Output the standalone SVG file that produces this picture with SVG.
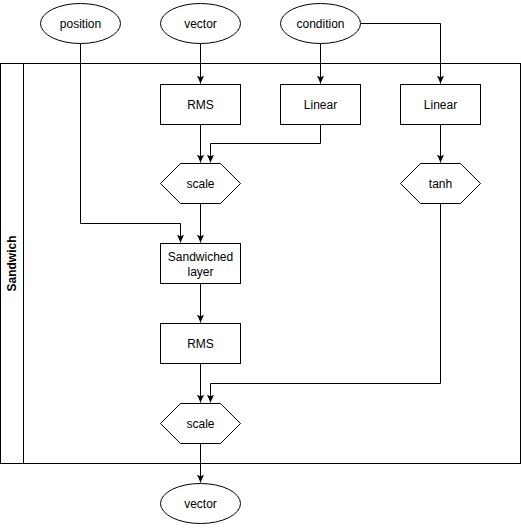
<svg xmlns="http://www.w3.org/2000/svg" width="521" height="528" viewBox="0 0 521 528">
<defs>
<style>
.s{fill:#fff;stroke:#000;stroke-width:1}
.c{fill:none;stroke:#000;stroke-width:1}
.t{font-family:"Liberation Sans",Arial,sans-serif;font-size:12px;fill:#000;text-anchor:middle;dominant-baseline:central}
.b{font-weight:bold}
</style>
<marker id="a" viewBox="0 0 10 10" refX="10" refY="5" markerWidth="8" markerHeight="8" markerUnits="userSpaceOnUse" orient="auto">
<path d="M0,0.5 L10,5 L0,9.5 L2.5,5 Z" fill="#000"/>
</marker>
</defs>
<g id="container">
<rect class="s" x="0.5" y="63.5" width="520" height="400"/>
<line class="c" x1="23.5" y1="63.5" x2="23.5" y2="463.5"/>
<text class="t b" transform="translate(12,263.5) rotate(-90)" x="0" y="0">Sandwich</text>
</g>
<g id="connectors">
<path class="c" d="M80.5,43.5 V223.5 H180.5 V242.5" marker-end="url(#a)"/>
<path class="c" d="M200.5,43.5 V83.5" marker-end="url(#a)"/>
<path class="c" d="M320.5,43.5 V83.5" marker-end="url(#a)"/>
<path class="c" d="M360.5,23.5 H440.5 V83.5" marker-end="url(#a)"/>
<path class="c" d="M200.5,124.5 V162.5" marker-end="url(#a)"/>
<path class="c" d="M320.5,124.5 V143.5 H210.5 V162.5" marker-end="url(#a)"/>
<path class="c" d="M440.5,124.5 V162.5" marker-end="url(#a)"/>
<path class="c" d="M200.5,203.5 V242.5" marker-end="url(#a)"/>
<path class="c" d="M440.5,203.5 V383.5 H210.5 V402.5" marker-end="url(#a)"/>
<path class="c" d="M200.5,283.5 V322.5" marker-end="url(#a)"/>
<path class="c" d="M200.5,363.5 V402.5" marker-end="url(#a)"/>
<path class="c" d="M200.5,443.5 V482.5" marker-end="url(#a)"/>
</g>
<g id="position"><ellipse class="s" cx="80.5" cy="23.5" rx="40" ry="20"/><text class="t" x="80.5" y="23.5">position</text></g>
<g id="vector-in"><ellipse class="s" cx="200.5" cy="23.5" rx="40" ry="20"/><text class="t" x="200.5" y="23.5">vector</text></g>
<g id="condition"><ellipse class="s" cx="320.5" cy="23.5" rx="40" ry="20"/><text class="t" x="320.5" y="23.5">condition</text></g>
<g id="rms1"><rect class="s" x="160.5" y="84.5" width="80" height="40"/><text class="t" x="200.5" y="104.5">RMS</text></g>
<g id="linear1"><rect class="s" x="280.5" y="84.5" width="80" height="40"/><text class="t" x="320.5" y="104.5">Linear</text></g>
<g id="linear2"><rect class="s" x="400.5" y="84.5" width="80" height="40"/><text class="t" x="440.5" y="104.5">Linear</text></g>
<g id="scale1"><polygon class="s" points="160.5,183.5 180.5,163.5 220.5,163.5 240.5,183.5 220.5,203.5 180.5,203.5"/><text class="t" x="200.5" y="183.5">scale</text></g>
<g id="tanh"><polygon class="s" points="400.5,183.5 420.5,163.5 460.5,163.5 480.5,183.5 460.5,203.5 420.5,203.5"/><text class="t" x="440.5" y="183.5">tanh</text></g>
<g id="sandwiched"><rect class="s" x="160.5" y="243.5" width="80" height="40"/><text class="t" x="200.5" y="256.5">Sandwiched</text><text class="t" x="200.5" y="271.5">layer</text></g>
<g id="rms2"><rect class="s" x="160.5" y="323.5" width="80" height="40"/><text class="t" x="200.5" y="343.5">RMS</text></g>
<g id="scale2"><polygon class="s" points="160.5,423.5 180.5,403.5 220.5,403.5 240.5,423.5 220.5,443.5 180.5,443.5"/><text class="t" x="200.5" y="423.5">scale</text></g>
<g id="vector-out"><ellipse class="s" cx="200.5" cy="503.5" rx="40" ry="20"/><text class="t" x="200.5" y="503.5">vector</text></g>
</svg>
